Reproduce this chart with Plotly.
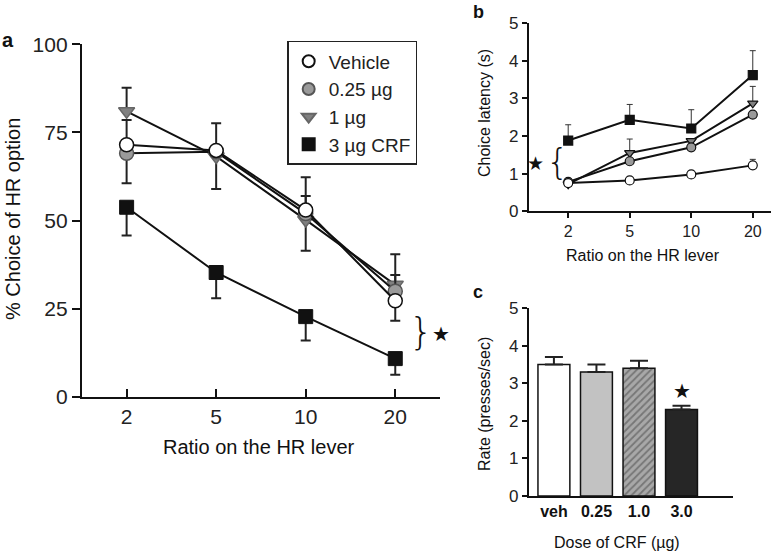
import plotly.graph_objects as go

# Panel a: % choice of HR option
ratios = ['2', '5', '10', '20']
series_names = ['Vehicle', '0.25 µg', '1 µg', '3 µg CRF']

veh_a = [71.5, 69.9, 53.0, 27.3]
veh_a_up = [7.0, 7.7, 9.3, 0]
veh_a_dn = [0, 0, 0, 5.7]
d025_a = [69.1, 69.5, 52.0, 30.0]
d025_a_up = [0, 0, 5.0, 4.6]
d025_a_dn = [8.5, 0, 0, 0]
d1_a = [81.0, 68.2, 50.2, 31.8]
d1_a_up = [6.7, 0, 0, 8.7]
d1_a_dn = [0, 9.2, 8.7, 0]
crf_a = [53.8, 35.3, 22.8, 10.9]
crf_a_dn = [8.0, 7.3, 6.8, 4.6]

# Panel b: choice latency (s)
veh_b = [0.75, 0.82, 0.98, 1.22]
veh_b_up = [0, 0, 0, 0.16]
d025_b = [0.78, 1.33, 1.70, 2.57]
d1_b = [0.72, 1.55, 1.87, 2.87]
d1_b_up = [0, 0.37, 0, 0.45]
crf_b = [1.88, 2.43, 2.20, 3.62]
crf_b_up = [0.42, 0.41, 0.50, 0.65]

# Panel c: lever press rate
doses = ['veh', '0.25', '1.0', '3.0']
rate = [3.5, 3.3, 3.4, 2.3]
rate_err = [0.2, 0.2, 0.2, 0.1]

styles = {
    'Vehicle': dict(symbol='circle', color='white', line=dict(color='#111', width=1.5)),
    '0.25 µg': dict(symbol='circle', color='#9a9a9a', line=dict(color='#555', width=1.5)),
    '1 µg': dict(symbol='triangle-down', color='#808080', line=dict(color='#666', width=1.5)),
    '3 µg CRF': dict(symbol='square', color='#111', line=dict(color='#111', width=1)),
}

fig = go.Figure()

a_data = [
    ('3 µg CRF', crf_a, [0] * 4, crf_a_dn),
    ('1 µg', d1_a, d1_a_up, d1_a_dn),
    ('0.25 µg', d025_a, d025_a_up, d025_a_dn),
    ('Vehicle', veh_a, veh_a_up, veh_a_dn),
]
for name, vals, up, dn in a_data:
    fig.add_trace(go.Scatter(
        x=ratios, y=vals, mode='lines+markers', showlegend=False,
        line=dict(color='#111', width=2),
        marker=dict(size=14, **styles[name]),
        error_y=dict(type='data', symmetric=False, array=up, arrayminus=dn,
                     color='#222', thickness=2, width=5),
        xaxis='x', yaxis='y'))

# legend-only entries (markers only, like the original)
for name in series_names:
    fig.add_trace(go.Scatter(
        x=[None], y=[None], mode='markers', name=name,
        marker=dict(size=14, **styles[name]), xaxis='x', yaxis='y'))

b_data = [
    ('3 µg CRF', crf_b, crf_b_up),
    ('1 µg', d1_b, d1_b_up),
    ('0.25 µg', d025_b, [0] * 4),
    ('Vehicle', veh_b, veh_b_up),
]
for name, vals, up in b_data:
    st = dict(styles[name])
    st['line'] = dict(color='#111', width=1.2)
    fig.add_trace(go.Scatter(
        x=ratios, y=vals, mode='lines+markers', showlegend=False,
        line=dict(color='#111', width=2),
        marker=dict(size=9, **st),
        error_y=dict(type='data', symmetric=False, array=up, arrayminus=[0] * 4,
                     color='#333', thickness=1, width=3),
        xaxis='x2', yaxis='y2'))

fig.add_trace(go.Bar(
    x=doses, y=rate, width=0.75, showlegend=False,
    marker=dict(color=['white', '#c2c2c2', '#a8a8a8', '#262626'],
                line=dict(color='#111', width=1.5),
                pattern=dict(shape=['', '', '/', ''], fgcolor='#555',
                             bgcolor='#a8a8a8', size=5, solidity=0.35)),
    error_y=dict(type='data', symmetric=False, array=rate_err, arrayminus=[0] * 4,
                 color='#222', thickness=2, width=9),
    xaxis='x3', yaxis='y3'))

font = 'Liberation Sans, Arial, sans-serif'
axis_common = dict(showline=True, linecolor='#111', linewidth=2, ticks='outside',
                   tickcolor='#111', tickwidth=2, showgrid=False, zeroline=False,
                   automargin=False, tickfont=dict(family=font, color='#222'))

fig.update_layout(
    width=772, height=553, margin=dict(l=0, r=0, t=0, b=0, pad=0),
    plot_bgcolor='white', paper_bgcolor='white',
    font=dict(family=font, color='#222'),
    xaxis=dict(axis_common, domain=[0.106, 0.570], type='category', range=[-0.5, 3.5],
               ticks='inside', ticklen=8, ticklabelstandoff=0,
               tickfont=dict(family=font, size=21, color='#222'), anchor='y'),
    yaxis=dict(axis_common, domain=[0.282, 0.920], range=[0, 100], tickvals=[0, 25, 50, 75, 100],
               ticklen=8, tickfont=dict(family=font, size=21, color='#222'), anchor='x'),
    xaxis2=dict(axis_common, domain=[0.685, 0.999], type='category', range=[-0.64, 3.3],
                ticklen=5, tickfont=dict(family=font, size=16, color='#222'), anchor='y2'),
    yaxis2=dict(axis_common, domain=[0.618, 0.958], range=[0, 5], dtick=1,
                ticklen=5, tickfont=dict(family=font, size=17, color='#222'), anchor='x2'),
    xaxis3=dict(axis_common, domain=[0.685, 0.950], type='category', range=[-0.59, 4.22],
                ticks='', tickfont=dict(family=font, size=16, color='#111', weight='bold'),
                anchor='y3'),
    yaxis3=dict(axis_common, domain=[0.103, 0.443], range=[0, 5], dtick=1,
                ticklen=5, tickfont=dict(family=font, size=17, color='#222'), anchor='x3'),
    legend=dict(x=0.372, y=0.926, xanchor='left', yanchor='top',
                bordercolor='#222', borderwidth=1.5, bgcolor='white',
                font=dict(family=font, size=19, color='#222'),
                itemsizing='constant', tracegroupgap=0),
)

annotations = [
    dict(text='<b>a</b>', x=8, y=40, size=20),
    dict(text='<b>b</b>', x=478, y=12, size=18),
    dict(text='<b>c</b>', x=478, y=292, size=18),
    dict(text='Ratio on the HR lever', x=259, y=447, size=20),
    dict(text='% Choice of HR option', x=13, y=219, size=20, angle=-90),
    dict(text='Choice latency (s)', x=484, y=113, size=16, angle=-90),
    dict(text='Ratio on the HR lever', x=643, y=256, size=16),
    dict(text='Rate (presses/sec)', x=484, y=404, size=16, angle=-90),
    dict(text='Dose of CRF (µg)', x=617, y=542, size=16),
    dict(text='}', x=421, y=331, size=38),
    dict(text='★', x=441, y=334, size=20),
    dict(text='{', x=557, y=161, size=36),
    dict(text='★', x=535, y=163, size=19),
    dict(text='★', x=682, y=391, size=20),
]
for an in annotations:
    fig.add_annotation(
        text=an['text'], x=an['x'] / 772, y=1 - an['y'] / 553, xref='paper', yref='paper',
        showarrow=False, textangle=an.get('angle', 0), xanchor='center', yanchor='middle',
        font=dict(family=font if an['text'] not in '{}' else 'DejaVu Sans',
                  size=an['size'], color='#111', weight=300 if an['text'] in '{}' else None))

fig.write_html("out.html", config={'displayModeBar': False},
               post_script="document.body.style.margin='0';")
